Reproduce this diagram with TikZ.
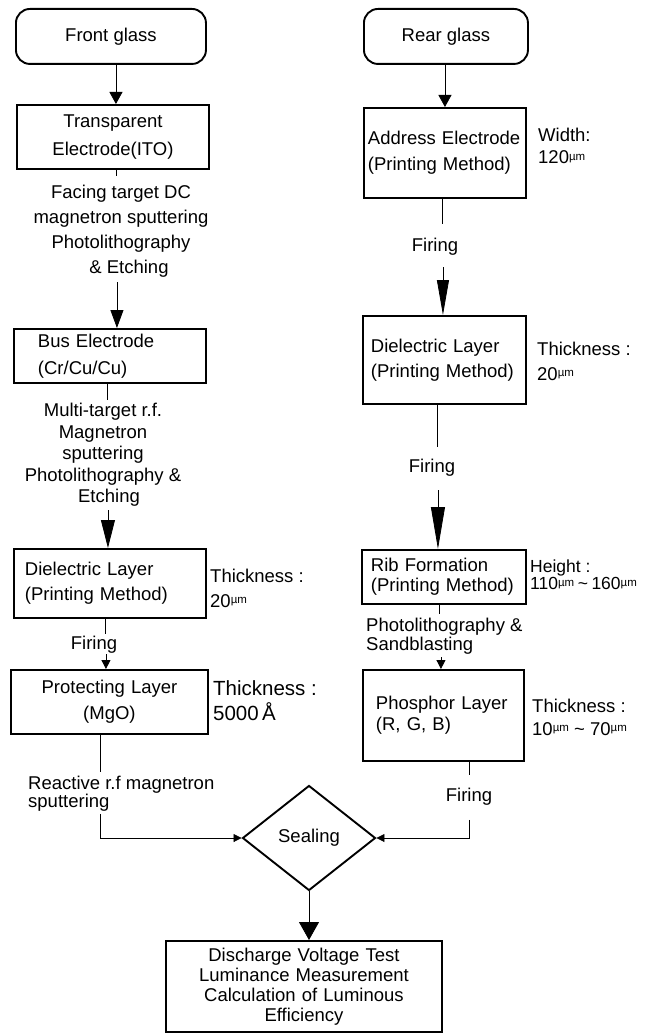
\documentclass[tikz,border=0pt]{standalone}
\usepackage{fontspec}
\setmainfont{Liberation Sans}
\usetikzlibrary{arrows.meta,shapes.geometric,calc}
\newcommand{\fsz}[2]{\fontsize{#1}{#2}\selectfont}
\newcommand{\um}{\raisebox{0.35ex}{\fontsize{11.5}{11.5}\selectfont µm}}
\begin{document}
\begin{tikzpicture}[x=1pt,y=-1pt,
  pbox/.style={draw, line width=1.9pt, rectangle, inner ysep=0pt, anchor=north west},
  rbox/.style={pbox, rounded corners=14pt},
  conn/.style={line width=0.8pt},
  lbl/.style={inner sep=0pt},
  tipA/.style={-{Triangle[width=13pt,length=12pt]}},
  tipB/.style={-{Triangle[width=13pt,length=18pt]}},
  tipC/.style={-{Triangle[width=14pt,length=28pt]}},
  tipG/.style={-{Triangle[width=12pt,length=35pt]}},
  tipH/.style={-{Triangle[width=14pt,length=42pt]}},
  tipS/.style={-{Triangle[width=9pt,length=9pt]}},
  tipE/.style={-{Triangle[width=8pt,length=8pt]}},
  tipK/.style={-{Triangle[width=20pt,length=18pt]}}
]
\useasboundingbox (0,0) rectangle (645,1035);

% ---------- left column ----------
\node[rbox, minimum width=190, minimum height=55, font=\fsz{18.5}{22}] (front) at (15,8) {Front glass};
\node[pbox, minimum width=192, minimum height=64, inner xsep=6pt, text width=180pt, align=center, font=\fsz{18.5}{28}] (ito) at (16,104) {Transparent\\Electrode(ITO)};
\node[pbox, minimum width=192, minimum height=54, inner xsep=24pt, text width=144pt, align=left, font=\fsz{18.5}{27}] (bus) at (13,328) {Bus Electrode\\(Cr/Cu/Cu)};
\node[pbox, minimum width=192, minimum height=69, inner xsep=11pt, text width=170pt, align=left, font=\fsz{18.5}{25}] (dielL) at (13,548) {Dielectric Layer\\(Printing Method)};
\node[pbox, minimum width=197, minimum height=64, inner xsep=6pt, text width=185pt, align=center, font=\fsz{18.5}{26}] (prot) at (10,669) {Protecting Layer\\(MgO)};

% ---------- right column ----------
\node[rbox, minimum width=164, minimum height=55, font=\fsz{18.5}{22}] (rear) at (363,8) {Rear glass};
\node[pbox, minimum width=162, minimum height=90, inner xsep=4pt, text width=154pt, align=left, font=\fsz{18.5}{26}] (addr) at (363,107) {Address Electrode\\(Printing Method)};
\node[pbox, minimum width=163, minimum height=88, inner xsep=8pt, text width=147pt, align=left, font=\fsz{18.5}{25}] (dielR) at (362,315) {Dielectric Layer\\(Printing Method)};
\node[pbox, minimum width=164, minimum height=54, inner xsep=9pt, text width=146pt, align=left, font=\fsz{18.5}{20}] (rib) at (361,549) {Rib Formation\\(Printing Method)};
\node[pbox, minimum width=161, minimum height=91, inner xsep=13pt, text width=135pt, align=left, font=\fsz{18.5}{21}] (phos) at (362,669) {Phosphor Layer\\(R, G, B)};

% ---------- bottom ----------
\node[draw, line width=1.9pt, shape=diamond, minimum width=133, minimum height=105, inner sep=0pt, font=\fsz{18.5}{22}] (seal) at (309,838) {Sealing};
\node[pbox, minimum width=276, minimum height=91, inner xsep=6pt, text width=264pt, align=center, font=\fsz{18.5}{20}] (result) at (165,940) {Discharge Voltage Test\\Luminance Measurement\\Calculation of Luminous\\Efficiency};

% ---------- labels ----------
\node[lbl, align=center, font=\fsz{18.5}{25}] (facing) at (121,231) {Facing target DC\\magnetron sputtering\\Photolithography\\\hspace*{16pt}\& Etching};
\node[lbl, align=center, font=\fsz{18.5}{21.5}] (multi) at (103,455) {Multi-target r.f.\\Magnetron\\sputtering\\Photolithography \&\\\hspace*{12pt}Etching};
\node[lbl, anchor=west, align=left, font=\fsz{18.5}{25}] (thickL) at (210,588) {Thickness :\\20\um};
\node[lbl, font=\fsz{18.5}{22}] (firingL) at (94,645) {Firing};
\node[lbl, anchor=west, align=left, font=\fsz{20.5}{25}] (thickP) at (213,701) {Thickness :\\5000\,Å};
\node[lbl, anchor=west, align=left, font=\fsz{18.5}{18}] (reactive) at (28,794) {Reactive r.f magnetron\\sputtering};

\node[lbl, anchor=west, align=left, font=\fsz{18.5}{22}] (width) at (538,146) {Width:\\120\um};
\node[lbl, font=\fsz{18.5}{22}] (firingR1) at (435,247) {Firing};
\node[lbl, anchor=west, align=left, font=\fsz{18.5}{25}] (thickR) at (537,361) {Thickness :\\20\um};
\node[lbl, font=\fsz{18.5}{22}] (firingR2) at (432,468) {Firing};
\node[lbl, anchor=west, align=left, font=\fsz{17.5}{17}] (height) at (530,575) {Height :\\110\um{}\hspace{3.5pt}\textasciitilde\hspace{3.5pt}160\um};
\node[lbl, anchor=west, align=left, font=\fsz{18.5}{19}] (photoR) at (366,636) {Photolithography \&\\Sandblasting};
\node[lbl, anchor=west, align=left, font=\fsz{18.5}{23}] (thickPh) at (532,717) {Thickness :\\10\um{} \textasciitilde{} 70\um};
\node[lbl, font=\fsz{18.5}{22}] (firingR3) at (469,797) {Firing};

% ---------- connectors: left ----------
\draw[conn, tipA] ([xshift=5pt]front.south) -- ([xshift=5pt]front.south |- ito.north);
\draw[conn] ([xshift=3pt]ito.south) -- ++(0,6);
\draw[conn, tipB] ([xshift=7pt]bus.north) ++(0,-46) -- ([xshift=7pt]bus.north);
\draw[conn] ([xshift=-3pt]bus.south) -- ++(0,16);
\draw[conn, tipC] ([xshift=-2pt]dielL.north) ++(0,-38) -- ([xshift=-2pt]dielL.north);
\draw[conn] ([xshift=-5pt]dielL.south) -- ++(0,15);
\draw[conn, tipS] ([xshift=-3.5pt]prot.north) ++(0,-15) -- ([xshift=-3.5pt]prot.north);
\draw[conn] ([xshift=-9.5pt]prot.south) -- ++(0,37);
\draw[conn, tipE] ([xshift=-9.5pt]prot.south) ++(0,79) |- (seal.west);

% ---------- connectors: right ----------
\draw[conn, tipA] (rear.south -| addr.north) -- (addr.north);
\draw[conn] ([xshift=-3pt]addr.south) -- ++(0,25);
\draw[conn, tipG] ([xshift=-1.5pt]dielR.north) ++(0,-48) -- ([xshift=-1.5pt]dielR.north);
\draw[conn] ([xshift=-7.5pt]dielR.south) -- ++(0,42);
\draw[conn, tipH] ([xshift=-6pt]rib.north) ++(0,-59) -- ([xshift=-6pt]rib.north);
\draw[conn] ([xshift=-5pt]rib.south) -- ++(0,9);
\draw[conn, tipS] ([xshift=-2.5pt]phos.north) ++(0,-12) -- ([xshift=-2.5pt]phos.north);
\draw[conn] ([xshift=25.5pt]phos.south) -- ++(0,13);
\draw[conn, tipE] ([xshift=25.5pt]phos.south) ++(0,58) |- (seal.east);

% ---------- bottom ----------
\draw[conn, tipK] (seal.south) -- (seal.south |- result.north);
\end{tikzpicture}
\end{document}
